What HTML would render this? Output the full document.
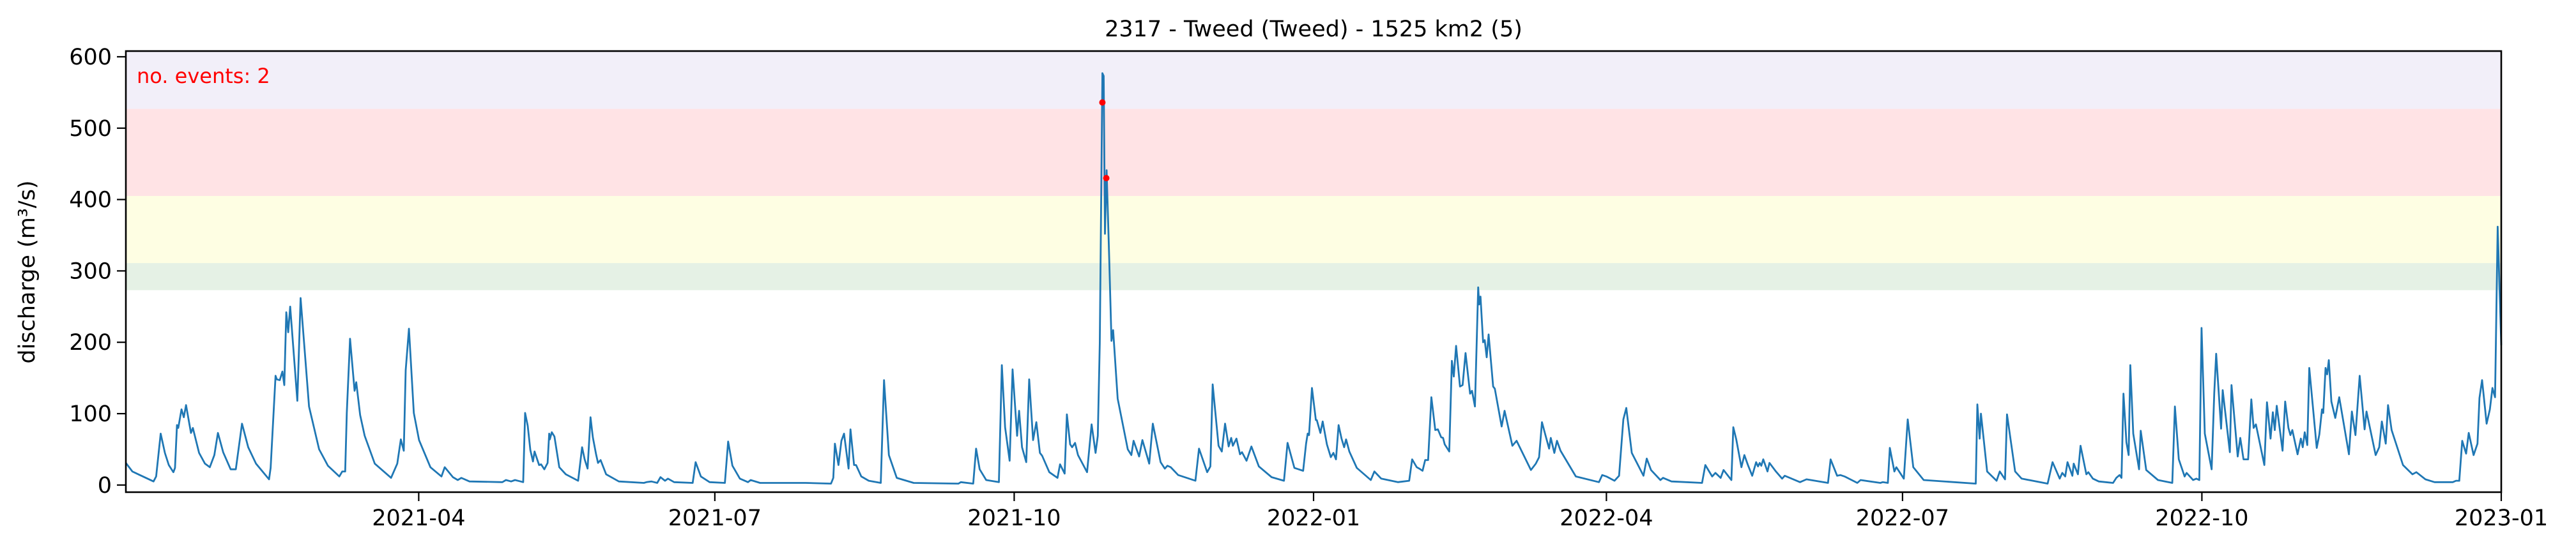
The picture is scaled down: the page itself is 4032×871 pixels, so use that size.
<!DOCTYPE html>
<html><head><meta charset="utf-8"><style>
body{margin:0;background:#fff;}
svg{display:block;font-family:"DejaVu Sans","Liberation Sans",sans-serif;}
</style></head><body>
<svg id="chart" width="4032" height="871" viewBox="0 0 4032 871" xmlns="http://www.w3.org/2000/svg">
<text x="2056" y="57" font-size="35" text-anchor="middle">2317 - Tweed (Tweed) - 1525 km2 (5)</text>
<g id="bands"></g>
<g id="series"></g>
<g id="axes"></g>
<text x="214" y="130" font-size="32" fill="#ff0000">no. events: 2</text>
<text transform="translate(54,426) rotate(-90)" font-size="35" text-anchor="middle">discharge (m³/s)</text>
</svg>
<script>
const days = [0,2,4.3,8.5,9.3,10.7,12,13.2,14.6,15.1,15.7,16.1,17.1,17.8,18.5,20,20.6,22.5,24.3,25.8,27.2,28.3,29.9,32.2,33.8,35.7,37.6,40,44,44.5,46,46.4,47.3,48.1,48.7,49.3,49.9,50.5,52.7,53.7,56.3,59.4,62.1,65.6,66.5,67.4,67.9,68.9,70.3,70.8,72,73.4,76.5,81.5,83.4,84.5,85.4,86,87,88.5,90.1,93.6,97,98,100.5,102,103.1,105.6,115.7,116.8,118.4,119.6,121.3,
122.1,122.7,123.5,124.3,125.1,125.6,127,127.6,128.6,129.6,130.1,130.3,130.9,131.7,133.2,135.2,139,140.2,141,141.9,142.8,143.5,144.5,145.1,145.9,147.6,151.5,159.2,160,161.5,163.3,164.3,165.7,166.6,168.5,174.2,175.1,176.7,179.4,184.1,185.1,186.4,188.7,191.2,192,194.9,208.9,216.7,217.4,217.9,219,219.9,220.7,222.1,222.7,223.8,224.4,226,228.3,232,233,234.5,236.9,242.1,
255.9,256.6,260.4,261.3,262.4,264.4,268.3,269.2,270.2,271.6,272.5,273.9,274.5,275.4,276.7,277.6,278.8,279.8,280.9,281.6,283.8,286.3,287.1,288.5,289.2,290.2,290.8,291.7,292.6,295.4,296.8,298,298.7,299.3,300.1,300.5,300.9,301.4,302.2,302.9,303.4,304.8,307.9,309,309.7,311.4,312.4,314.5,315.6,318,319.3,320.1,321.1,323.4,328.7,329.8,332.3,333.3,334,335.8,336.8,337.8,338.9,339.7,340.2,341.3,342.4,343,344.4,345.9,348.2,352.1,355.9,357,359.1,361.8,
362.7,363.2,363.6,364.5,365.7,366,367.1,367.8,369.1,370.3,371.1,371.9,372.7,373.6,374.4,375,376,378.3,382.6,383.7,385.8,390.9,394.4,395.3,396.7,397.5,398.5,399.3,400.2,401.2,402.4,403.2,404.2,404.8,405.3,406.7,407.5,408.1,408.8,410,410.8,411.7,413.1,413.7,414.6,415.6,415.9,416.3,417.1,417.6,418.2,418.8,420.2,420.7,422.8,423.7,426.1,427.4,431.8,433.3,434.3,435.2,436.2,437.4,437.9,439,439.8,440.9,445.6,452.7,453.7,455,457.5,458.9,460.2,461.1,462.8,466.4,467.4,468.7,471.6,472.4,475,484.4,
485.4,487.5,488.5,490.1,491,493.4,494,494.9,496.5,497.4,498.5,499.8,501,501.6,502.1,502.6,503.2,504.5,505.1,507.1,509,509.8,514.5,516.5,523.1,523.9,525.9,526.9,528.2,532.1,533.1,539.2,539.9,541.5,542.1,543.5,544.1,546.4,547.6,549.3,552.5,568.5,569,569.7,570.1,572,574.9,575.9,577.5,578.1,580.6,582.6,590.6,592.1,594.3,595.1,596,596.7,598.2,598.6,599.9,600.7,602.5,603.1,604.5,606.3,
610.7,611.7,612.7,613.3,613.9,614.8,615.5,616,616.9,618.7,619.2,620.9,624.5,628.9,629.7,630.9,632.7,633.3,635.3,636.3,637.2,637.9,638.9,641,641.8,642.4,643.9,644.4,646.6,647.1,649,649.8,650.8,652.2,653.2,653.9,654.6,657.2,658,659.1,659.8,660.4,661,662.8,663.6,664.6,665.2,665.8,667.4,668.4,669,669.6,670.4,671,673.3,674.1,674.9,675.3,676,676.5,677,677.8,679,680.2,683.2,684.1,685.2,686.5,688,688.6,691.4,692.5,693.3,694.5,695.2,696.3,699.8,702.7,703.9,706.7,709.5,715.1,716.1,717.1,718,719.2,720,721.5,722.7,723.3,724.1,725.5,726.5,727.3,728.1,728.9,730];
const values = [31,19,14,5,12,72,45,28,18,24,84,80,106,95,112,73,80,45,30,25,42,73,46,22,22,86,53,30,8,24,153,148,147,159,140,242,214,250,118,262,110,50,27,12,19,19,101,205,132,144,98,69,30,10,30,64,48,161,219,101,63,25,12,25,11,7,10,5,4,7,5,7,5,
4,101,83,49,33,47,28,29,22,31,72,64,74,68,25,15,6,53,36,23,95,67,43,31,35,15,5,3,4,5,3,11,6,9,4,3,32,12,4,3,61,27,9,4,7,3,3,2,10,58,28,62,72,23,78,28,28,12,6,3,147,42,10,3,
2,4,2,51,22,7,4,168,81,34,162,69,104,53,32,148,63,88,45,41,18,10,29,16,99,57,53,59,42,18,85,45,69,199,577,573,352,441,316,202,217,121,50,42,62,40,63,30,86,32,23,27,25,14,6,51,18,26,141,55,47,86,54,66,55,65,43,46,34,54,26,11,6,59,24,20,
58,72,70,136,91,91,73,89,57,39,45,36,84,65,53,64,47,24,7,19,9,4,6,36,25,23,20,35,35,123,77,78,67,66,57,47,174,152,195,138,140,185,128,132,110,277,253,264,200,203,179,211,138,135,82,104,55,62,21,30,39,88,71,51,66,45,62,48,12,4,14,12,6,13,92,108,45,13,37,21,7,10,5,3,
28,12,17,10,21,7,81,64,25,42,28,13,32,26,31,27,36,19,31,19,9,13,4,8,3,36,13,14,12,3,7,3,4,3,52,19,25,9,92,25,7,2,113,65,100,19,6,19,8,99,19,9,2,32,9,17,12,32,13,30,15,55,15,18,9,5,
3,10,14,10,128,60,42,168,72,22,76,21,7,3,110,36,12,17,7,9,7,220,72,22,129,184,79,133,46,140,40,66,36,36,120,80,85,28,116,65,102,77,111,48,117,80,70,77,43,65,53,74,56,164,52,71,106,101,164,155,175,117,94,123,43,103,70,153,78,103,42,53,89,58,112,77,28,15,18,8,4,4,6,6,62,44,73,42,58,122,147,86,106,136,123,362,196];
const eventDays = [300.1, 301.3];
const eventValues = [536, 430];
const yTicks = [0,100,200,300,400,500,600];
const xTickDays = [90,181,273,365,455,546,638,730];
const xTickLabels = ["2021-04","2021-07","2021-10","2022-01","2022-04","2022-07","2022-10","2023-01"];
const bandLow = [273,311,405,527];
const bandHigh = [311,405,527,620];
const bandColors = ["#e5f1e5","#fefee3","#ffe3e5","#f2eff9"];
const bandNames = ["band-green","band-yellow","band-red","band-purple"];

const L=197,R=3915,T=80,B=771,YMIN=-10,YMAX=608,DMAX=730;
const NS="http://www.w3.org/2000/svg";
function xs(d){return L+d*(R-L)/DMAX;}
function ys(v){return B-(v-YMIN)*(B-T)/(YMAX-YMIN);}
function mk(tag,attrs,parent){const e=document.createElementNS(NS,tag);for(const k in attrs)e.setAttribute(k,attrs[k]);parent.appendChild(e);return e;}

const bands=document.getElementById('bands');
for(let i=0;i<bandLow.length;i++){
  const top=Math.max(T,ys(bandHigh[i]));
  const r=mk('rect',{x:L,y:top,width:R-L,height:ys(bandLow[i])-top,fill:bandColors[i]},bands);
  
  
}
const series=document.getElementById('series');
let pts=[];
for(let i=0;i<days.length;i++)pts.push(xs(days[i]).toFixed(1)+','+ys(values[i]).toFixed(1));
const pl=mk('polyline',{points:pts.join(' '),fill:'none',stroke:'#1f77b4','stroke-width':2.8,'stroke-linejoin':'round'},series);


for(let i=0;i<eventDays.length;i++){
  const c=mk('circle',{cx:xs(eventDays[i]),cy:ys(eventValues[i]),r:5,fill:'#ff0000'},series);
  
  
}
const axes=document.getElementById('axes');
const fr=mk('rect',{x:L,y:T,width:R-L,height:B-T,fill:'none',stroke:'#000','stroke-width':2.6},axes);


for(const v of yTicks){
  const y=ys(v);
  const t=mk('line',{x1:L-14,x2:L,y1:y,y2:y,stroke:'#000','stroke-width':2.2},axes);
  
  
  const tx=mk('text',{x:L-22,y:y+12,'font-size':35,'text-anchor':'end'},axes);
  tx.textContent=v;
  
  
}
for(let i=0;i<xTickDays.length;i++){
  const x=xs(xTickDays[i]);
  const t=mk('line',{x1:x,x2:x,y1:B,y2:B+14,stroke:'#000','stroke-width':2.2},axes);
  
  
  const tx=mk('text',{x:x,y:B+52,'font-size':35,'text-anchor':'middle'},axes);
  tx.textContent=xTickLabels[i];
  
  
}
</script>
</body></html>
